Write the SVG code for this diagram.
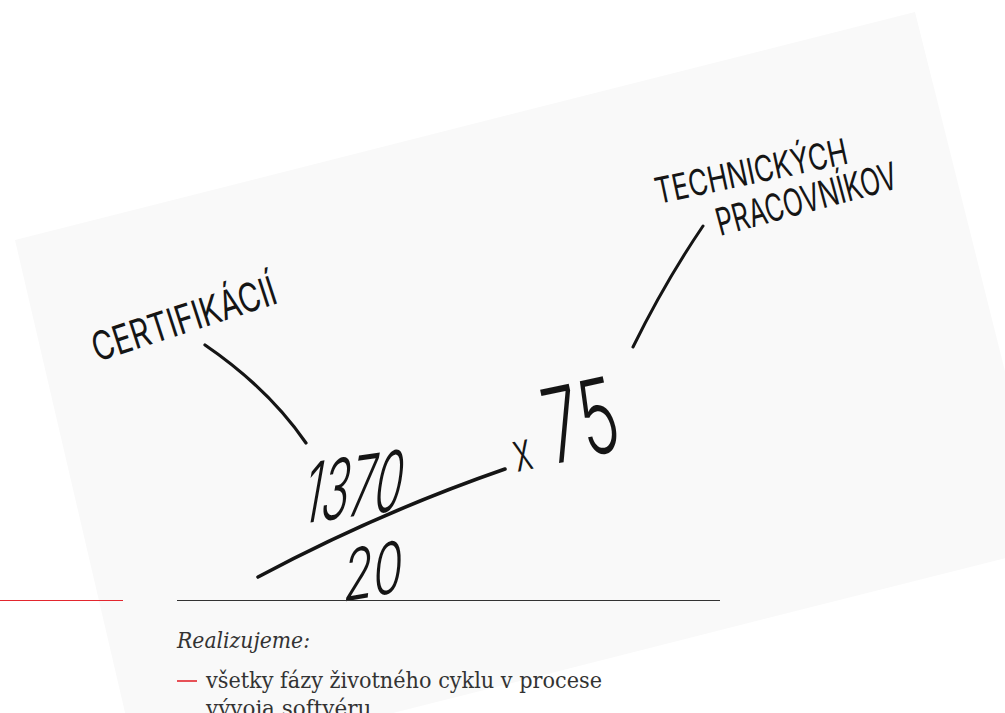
<svg xmlns="http://www.w3.org/2000/svg" width="1005" height="713" viewBox="0 0 1005 713">
<style>
.hand{font-family:Inter,"Open Sans","Liberation Sans",sans-serif;font-weight:400;fill:#151515}
.ink{fill:none;stroke:#151515;stroke-linecap:round;stroke-linejoin:round}
.body{font-family:"DejaVu Serif","Liberation Serif",serif;fill:#333}
</style>
<rect width="1005" height="713" fill="#ffffff"/>
<polygon id="paper" points="15,240 915,12 1049,547 140,777" fill="#f9f9f9"/>
<g id="connectors">
<path class="ink" stroke-width="3.2" d="M205,345 Q268,388 306,443"/>
<path class="ink" stroke-width="3" d="M703,226 Q665,282 633,347"/>
<path class="ink" stroke-width="3.6" d="M258,577 Q378,513 505,469"/>
</g>
<g id="certifikacii">
<text class="hand" transform="translate(97,362) rotate(-18)" font-size="40" textLength="192" lengthAdjust="spacingAndGlyphs">CERTIFIKÁCIÍ</text>
</g>
<g id="technickych">
<text class="hand" transform="translate(658,204) rotate(-12)" font-size="36" textLength="196" lengthAdjust="spacingAndGlyphs">TECHNICKÝCH</text>
<text class="hand" transform="translate(720,236) rotate(-15)" font-size="38" textLength="186" lengthAdjust="spacingAndGlyphs">PRACOVNÍKOV</text>
</g>
<g id="fraction">
<text class="hand" style="font-weight:300" transform="translate(300,524) rotate(-8) skewX(-18)" font-size="82" textLength="100" lengthAdjust="spacingAndGlyphs">1370</text>
<text class="hand" style="font-weight:300" transform="translate(342,602) rotate(-10) skewX(-15)" font-size="70" textLength="60" lengthAdjust="spacingAndGlyphs">20</text>
</g>
<g id="times75">
<text class="hand" style="font-weight:300" transform="translate(517,472) rotate(-12) scale(0.62,1)" font-size="104"><tspan font-size="55">x</tspan><tspan> 75</tspan></text>
</g>
<g id="caption">
<line x1="0" y1="600.5" x2="123" y2="600.5" stroke="#e3262e" stroke-width="1.2"/>
<line x1="177" y1="600.5" x2="720" y2="600.5" stroke="#333" stroke-width="1.2"/>
<text class="body" x="177" y="648" font-size="22" font-style="italic" textLength="133" lengthAdjust="spacingAndGlyphs">Realizujeme:</text>
<line x1="177" y1="681" x2="197" y2="681" stroke="#e3262e" stroke-width="1.6"/>
<text class="body" x="206" y="688" font-size="21.5" textLength="396" lengthAdjust="spacingAndGlyphs">všetky fázy životného cyklu v procese</text>
<text class="body" x="206" y="716" font-size="21.5">vývoja softvéru</text>
</g>
</svg>
